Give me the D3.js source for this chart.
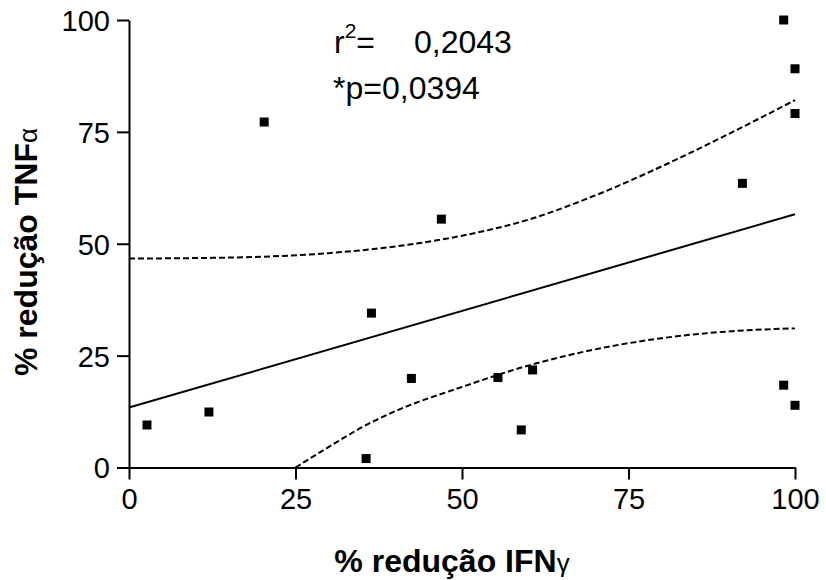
<!DOCTYPE html>
<html>
<head>
<meta charset="utf-8">
<script src="https://cdn.jsdelivr.net/npm/d3@7"></script>
<style>
  html, body { margin: 0; padding: 0; background: #fff; }
  svg { display: block; }
  .tick text { font-family: "Liberation Sans", Arial, sans-serif; }
</style>
</head>
<body>
<svg id="chart" width="826" height="580"></svg>
<script>
// ---- data ----
const ifnReduction = [2.7, 12.0, 20.3, 35.6, 36.4, 42.4, 46.9, 55.4, 58.9, 60.6, 92.1, 98.3, 98.3, 100, 100, 100];
const tnfReduction = [9.5, 12.4, 77.2, 2.0, 34.5, 19.9, 55.5, 20.1, 8.4, 21.8, 63.5, 100, 18.4, 89.1, 79.1, 13.9];

const fitX = [0, 100];
const fitY = [13.4, 56.6];

const upperBandX = [0, 10, 20, 30, 40, 50, 60, 70, 80, 90, 100];
const upperBandY = [46.7, 46.8, 47.1, 47.9, 49.4, 51.8, 55.4, 60.8, 67.3, 74.5, 82.1];

const lowerBandX = [25, 30, 35, 40, 50, 60, 70, 80, 90, 100];
const lowerBandY = [0, 4.6, 9.0, 12.6, 18.0, 22.8, 26.4, 28.9, 30.4, 31.1];

const xTicks = [0, 25, 50, 75, 100];
const yTicks = [0, 25, 50, 75, 100];

const r2Label = "0,2043";
const pLabel = "*p=0,0394";
const xTitle = "% redução IFN";
const yTitle = "% redução TNF";

// ---- chart ----
const svg = d3.select("#chart");
const font = "'Liberation Sans', Arial, Helvetica, sans-serif";

const x = d3.scaleLinear().domain([0, 100]).range([129, 795]);
const y = d3.scaleLinear().domain([0, 100]).range([467.5, 20]);

// axes
const xAxis = d3.axisBottom(x).tickValues(xTicks).tickSize(12).tickPadding(9).tickSizeOuter(0);
const yAxis = d3.axisLeft(y).tickValues(yTicks).tickSize(12).tickPadding(7).tickSizeOuter(0);

const gx = svg.append("g").attr("transform", `translate(0,${y(0)})`).call(xAxis);
const gy = svg.append("g").attr("transform", `translate(${x(0)},0)`).call(yAxis);

[gx, gy].forEach(g => {
  g.select(".domain").attr("stroke", "#000").attr("stroke-width", 2);
  g.selectAll(".tick line").attr("stroke", "#000").attr("stroke-width", 2);
  g.selectAll(".tick text")
    .attr("fill", "#000")
    .style("font-family", font)
    .style("font-size", "29px");
});
gx.selectAll(".tick text").attr("dy", "0.71em");
gy.selectAll(".tick text").attr("dy", "0.36em");

// regression line
const line = d3.line().x(d => x(d[0])).y(d => y(d[1]));
svg.append("path")
  .datum(d3.zip(fitX, fitY))
  .attr("d", line)
  .attr("fill", "none")
  .attr("stroke", "#000")
  .attr("stroke-width", 2);

// confidence bands
const curve = d3.line().x(d => x(d[0])).y(d => y(d[1])).curve(d3.curveMonotoneX);
svg.append("path")
  .datum(d3.zip(upperBandX, upperBandY))
  .attr("d", curve)
  .attr("fill", "none")
  .attr("stroke", "#000")
  .attr("stroke-width", 2)
  .attr("stroke-dasharray", "6,3");
svg.append("path")
  .datum(d3.zip(lowerBandX, lowerBandY))
  .attr("d", curve)
  .attr("fill", "none")
  .attr("stroke", "#000")
  .attr("stroke-width", 2)
  .attr("stroke-dasharray", "6,3");

// points
const pts = d3.zip(ifnReduction, tnfReduction);
const s = 9;
svg.append("g").selectAll("rect")
  .data(pts)
  .join("rect")
  .attr("x", d => x(d[0]) - s / 2)
  .attr("y", d => y(d[1]) - s / 2)
  .attr("width", s)
  .attr("height", s)
  .attr("fill", "#000");

// annotations
const r2 = svg.append("text")
  .attr("x", 334).attr("y", 53)
  .style("font-family", font).style("font-size", "32px").attr("fill", "#000");
r2.append("tspan").text("r");
r2.append("tspan").attr("dy", -15).style("font-size", "21px").text("2");
r2.append("tspan").attr("dy", 15).text("=");
svg.append("text")
  .attr("x", 414).attr("y", 53)
  .style("font-family", font).style("font-size", "32px").attr("fill", "#000")
  .text(r2Label);
svg.append("text")
  .attr("x", 333).attr("y", 99)
  .style("font-family", font).style("font-size", "32px").attr("fill", "#000")
  .text(pLabel);

// axis titles
const xt = svg.append("text")
  .attr("x", 452).attr("y", 572)
  .attr("text-anchor", "middle")
  .style("font-family", font).style("font-size", "32px").style("font-weight", "bold")
  .attr("fill", "#000");
xt.append("tspan").text(xTitle);
xt.append("tspan").style("font-weight", "normal").style("font-size", "26px").text("γ");

const yt = svg.append("text")
  .attr("transform", "translate(37,252) rotate(-90)")
  .attr("text-anchor", "middle")
  .style("font-family", font).style("font-size", "32px").style("font-weight", "bold")
  .attr("fill", "#000");
yt.append("tspan").text(yTitle);
yt.append("tspan").style("font-weight", "normal").style("font-size", "26px").text("α");
</script>
</body>
</html>
